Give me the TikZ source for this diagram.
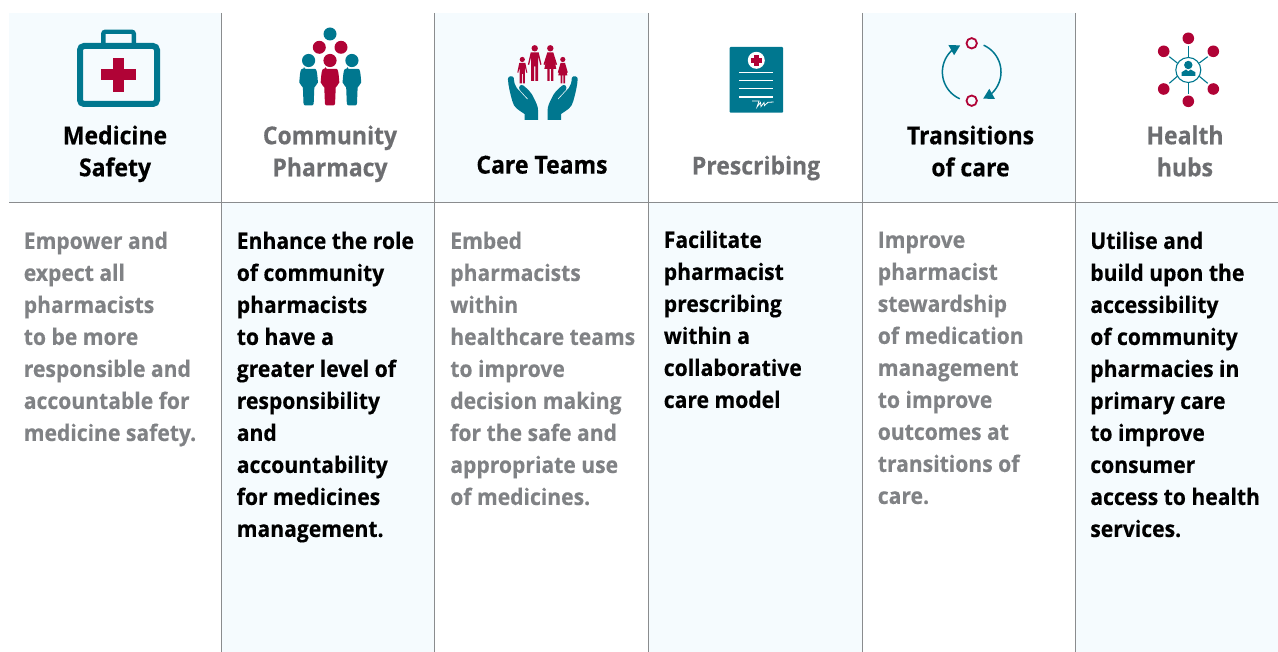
\documentclass[tikz,border=0pt]{standalone}
\usepackage{fontspec}
\setmainfont{Open Sans}[FakeStretch=0.93]
\newfontfamily\heavyfont{Open Sans}[FakeStretch=0.93,BoldFeatures={FakeStretch=0.93,FakeBold=0.35}]
\definecolor{teal1}{HTML}{00778F}
\definecolor{red1}{HTML}{B00336}
\definecolor{panel}{HTML}{F5FBFE}
\definecolor{rule1}{HTML}{8A8C8E}
\definecolor{grey1}{HTML}{808285}
\definecolor{grey2}{HTML}{6D6E71}
\tikzset{
  x=1pt,y=-1pt,
  headtxt/.style={align=center,anchor=north,font=\fontsize{24.7}{32}\selectfont\heavyfont\bfseries,inner sep=0pt,text=#1,execute at begin node={\rule{0pt}{17pt}}},
  bodytxt/.style={align=left,anchor=north west,font=\fontsize{22.7}{32}\selectfont\heavyfont\bfseries,inner sep=0pt,text=#1,execute at begin node={\rule{0pt}{16pt}}},
  paneltile/.style={fill=panel,draw=none},
  colrule/.style={draw=rule1,line width=1.2pt},
  person/.pic={
    \fill[pic actions] (0,-17) circle[radius=6.6];
    \fill[pic actions,rounded corners=2pt] (-4.5,-8.5) -- (4.5,-8.5) .. controls (8,-8.5) and (8.5,-6) .. (9.5,7) -- (5.8,8) -- (5,28) -- (-5,28) -- (-5.8,8) -- (-9.5,7) .. controls (-8.5,-6) and (-8,-8.5) .. (-4.5,-8.5) -- cycle;
  },
  adultm/.pic={
    \fill[red1] (0,-3.2) circle[radius=3.2];
    \fill[red1] (-4,1) -- (4,1) -- (6.8,13) -- (5.6,13.4) -- (3.5,5) -- (3.5,29.5) -- (0.6,29.5) -- (0.6,15) -- (-0.6,15) -- (-0.6,29.5) -- (-3.5,29.5) -- (-3.5,5) -- (-5.6,13.4) -- (-6.8,13) -- cycle;
  },
  adultf/.pic={
    \fill[red1] (0,-3.2) circle[radius=3.2];
    \fill[red1] (-3,1) -- (3,1) -- (6.8,13) -- (5.6,13.4) -- (3.8,7) -- (6,17.5) -- (3,17.5) -- (3,29.5) -- (0.7,29.5) -- (0.7,17.5) -- (-0.7,17.5) -- (-0.7,29.5) -- (-3,29.5) -- (-3,17.5) -- (-6,17.5) -- (-3.8,7) -- (-5.6,13.4) -- (-6.8,13) -- cycle;
  },
  childm/.pic={
    \fill[red1] (0,-2.5) circle[radius=2.6];
    \fill[red1] (-3,0.8) -- (3,0.8) -- (5,10.5) -- (4,10.8) -- (2.6,5) -- (2.6,21.5) -- (0.5,21.5) -- (0.5,12) -- (-0.5,12) -- (-0.5,21.5) -- (-2.6,21.5) -- (-2.6,5) -- (-4,10.8) -- (-5,10.5) -- cycle;
  },
  childf/.pic={
    \fill[red1] (0,-2.5) circle[radius=2.6];
    \fill[red1] (-2.2,0.8) -- (2.2,0.8) -- (5,10.5) -- (4,10.8) -- (2.6,5.5) -- (4.6,13.5) -- (2.3,13.5) -- (2.3,21.5) -- (0.5,21.5) -- (0.5,13.5) -- (-0.5,13.5) -- (-0.5,21.5) -- (-2.3,21.5) -- (-2.3,13.5) -- (-4.6,13.5) -- (-2.6,5.5) -- (-4,10.8) -- (-5,10.5) -- cycle;
  },
  hand/.pic={
    \fill[teal1] (-34.9,1) .. controls (-35,-2) and (-30,-3) .. (-29,0) .. controls (-28.8,4) and (-28,7.5) .. (-26,10) -- (-15.5,21.5) -- (-14.8,20.8) -- (-23,12) .. controls (-25,9) and (-22,5.5) .. (-19.5,7.5) .. controls (-15,11) and (-11,15) .. (-9,20) .. controls (-7,24) and (-4.7,28) .. (-4.7,33) -- (-4.7,42) -- (-18.3,42) -- (-18.3,36) .. controls (-24,32) and (-29,30) .. (-30.5,23) .. controls (-32.5,16) and (-34.5,8) .. (-34.9,1) -- cycle;
  }
}
\begin{document}
\begin{tikzpicture}
\useasboundingbox (0,0) rectangle (1278,652);
% panels
\fill[paneltile] (9,13) rectangle (221,202);
\fill[paneltile] (434.5,13) rectangle (648,202);
\fill[paneltile] (862,13) rectangle (1076,202);
\fill[paneltile] (221,202) rectangle (434.5,652);
\fill[paneltile] (648,202) rectangle (862,652);
\fill[paneltile] (1076,202) rectangle (1278,652);
% rules
\foreach \cx in {221.1,434.6,648.3,862.2,1075.7}
  \draw[colrule] (\cx,13) -- (\cx,652);
\draw[colrule] (9,202.3) -- (1278,202.3);
% kit
\draw[teal1,line width=4.4pt,rounded corners=2pt] (103.3,43) -- (103.3,31.8) -- (133.8,31.8) -- (133.8,43);
\draw[teal1,line width=6pt,rounded corners=4pt] (80,46) rectangle (157,104);
\fill[red1] (113,58) rectangle (124,92);
\fill[red1] (101,69) rectangle (135.5,80.5);
% community
\fill[teal1] (330,34) circle[radius=6.5];
\fill[red1] (319.3,47.3) circle[radius=6.5];
\fill[red1] (341,47.3) circle[radius=6.5];
\pic[fill=teal1] at (308.6,77.5) {person};
\pic[fill=red1] at (330,77.5) {person};
\pic[fill=teal1] at (351.9,77.5) {person};
% care teams
\pic at (522.3,62) {childm};
\pic at (534.7,51.5) {adultm};
\pic at (550.3,51.5) {adultf};
\pic at (562.8,62) {childf};
\pic at (542.8,78) {hand};
\pic[xscale=-1] at (542.8,78) {hand};
% prescription
\fill[teal1,rounded corners=0.8pt] (729.7,47) rectangle (783,112.7);
\fill[white] (756.3,60.3) circle[radius=8.5];
\fill[red1] (754,55) rectangle (758.8,65.6);
\fill[red1] (751,58) rectangle (761.6,62.8);
\foreach \ly in {72.7,80.7,88.7,97}
  \draw[white,line width=1.2pt] (739,\ly) -- (773,\ly);
\draw[white,line width=0.8pt] (752,101) -- (759,101) -- (757,107) -- (760.5,102.5) -- (761,106.5) -- (764,102.5) -- (764.5,105.5) -- (768,102.3) -- (773.7,102);
% transitions
\draw[red1,line width=1.8pt] (971.7,43.3) circle[radius=5.2];
\draw[red1,line width=1.8pt] (971.7,100.7) circle[radius=5.2];
\draw[teal1,line width=1.5pt] plot[domain=-66:58,samples=40] ({971.7+29.3*cos(\x)},{72+29.3*sin(\x)});
\draw[teal1,line width=1.5pt] plot[domain=114:238,samples=40] ({971.7+29.3*cos(\x)},{72+29.3*sin(\x)});
\fill[teal1] (983.2,98.6) -- (995,99) -- (989.3,88.8) -- cycle;
\fill[teal1] (960.2,45.4) -- (948.4,45) -- (954.1,55.2) -- cycle;
% hub
\draw[teal1,line width=1.1pt] (1188.3,70) circle[radius=12.5];
\foreach \dx/\dy in {1188.3/38.3,1188.3/101.3,1163.7/51.3,1213.3/51.3,1163.7/89,1213.3/89}
  \fill[red1] (\dx,\dy) circle[radius=5.8];
\draw[teal1,line width=1.1pt] (1188.3,46.5) -- (1188.3,57);
\draw[teal1,line width=1.1pt] (1188.3,83) -- (1188.3,94);
\draw[teal1,line width=1.1pt] (1169.3,56.7) -- (1177.3,63);
\draw[teal1,line width=1.1pt] (1207.7,56.7) -- (1199.3,63);
\draw[teal1,line width=1.1pt] (1169.3,83.3) -- (1177.3,76.3);
\draw[teal1,line width=1.1pt] (1207.7,83.3) -- (1199.3,76.3);
\fill[teal1] (1188.3,65) circle[radius=4.2];
\fill[teal1] (1181.7,76) -- (1181.7,72.2) -- (1186,69.5) -- (1188.3,71.3) -- (1190.6,69.5) -- (1195.3,72.2) -- (1195.3,76) -- cycle;
% headings
\node[headtxt=black] (h1) at (115,125.3) {Medicine\\Safety};
\node[headtxt=grey2] (h2) at (330,125.3) {Community\\Pharmacy};
\node[headtxt=black] (h3) at (542,155.5) {Care Teams};
\node[headtxt=grey2] (h4) at (756,155.5) {Prescribing};
\node[headtxt=black] (h5) at (970.5,125.3) {Transitions\\of care};
\node[headtxt=grey2] (h6) at (1185,125.3) {Health\\hubs};
% bodies
\node[bodytxt=grey1] (b1) at (23.6,231.5) {Empower and\\expect all\\pharmacists\\to be more\\responsible and\\accountable for\\medicine safety.};
\node[bodytxt=black] (b2) at (236.6,231.5) {Enhance the role\\of community\\pharmacists\\to have a\\greater level of\\responsibility\\and\\accountability\\for medicines\\management.};
\node[bodytxt=grey1] (b3) at (450.1,231.5) {Embed\\pharmacists\\within\\healthcare teams\\to improve\\decision making\\for the safe and\\appropriate use\\of medicines.};
\node[bodytxt=black] (b4) at (663.6,230.5) {Facilitate\\pharmacist\\prescribing\\within a\\collaborative\\care model};
\node[bodytxt=grey1] (b5) at (877.6,231.5) {Improve\\pharmacist\\stewardship\\of medication\\management\\to improve\\outcomes at\\transitions of\\care.};
\node[bodytxt=black] (b6) at (1090.1,231.5) {Utilise and\\build upon the\\accessibility\\of community\\pharmacies in\\primary care\\to improve\\consumer\\access to health\\services.};
\end{tikzpicture}
\end{document}
